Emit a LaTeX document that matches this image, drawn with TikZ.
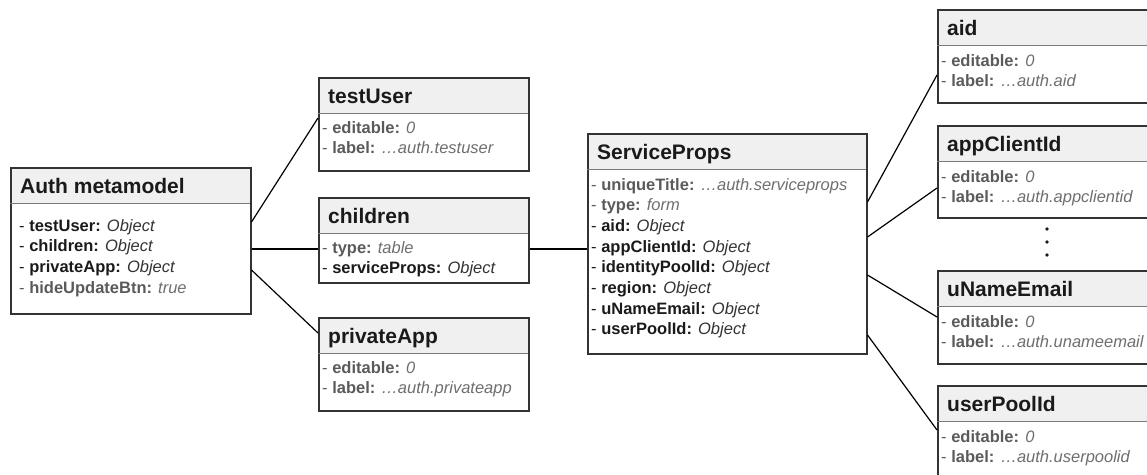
\documentclass[tikz,border=0pt]{standalone}
\usepackage{fontspec}
\setmainfont{Liberation Sans}
\usetikzlibrary{calc}

\definecolor{hdrfill}{HTML}{F0F0F0}
\definecolor{framecol}{HTML}{333333}
\definecolor{sepcol}{HTML}{7A7A7A}
\definecolor{keygray}{HTML}{5A5A5A}
\definecolor{valgray}{HTML}{6E6E6E}
\definecolor{ink}{HTML}{1A1A1A}
\definecolor{objink}{HTML}{333333}

% one attribute line pointing to a child object
\newcommand\objfield[1]{\textcolor{ink}{- \textbf{#1:} \textcolor{objink}{\textit{Object}}}}
% one plain attribute line with a value
\newcommand\valfield[2]{\textcolor{keygray}{- \textbf{#1:} \textcolor{valgray}{\textit{#2}}}}

\tikzset{
  hdr/.style={rectangle, fill=hdrfill, draw=none, inner sep=0pt, outer sep=0pt, minimum height=36pt},
  umlframe/.style={rectangle, draw=framecol, line width=1.5pt, fill=none, inner sep=0pt},
  sepline/.style={draw=sepcol, line width=1pt},
  titletext/.style={inner sep=0pt, text=ink, font=\fontsize{21}{25}\selectfont\bfseries},
  bodytext/.style={inner sep=0pt, font=\fontsize{16.5}{20.7}\selectfont},
  link/.style={draw=black, line width=1.2pt},
  dotmark/.style={fill=ink}
}

% #1 name, #2 x, #3 y, #4 width, #5 height, #6 title,
% #7 body indent, #8 first baseline below header, #9 body lines
\newcommand\umlbox[9]{%
  \node[hdr, minimum width=#4pt, anchor=north west] (#1-h) at (#2,#3) {};
  \node[umlframe, minimum width=#4pt, minimum height=#5pt, anchor=north west] (#1) at (#2,#3) {};
  \draw[sepline] (#1-h.south west) -- (#1-h.south east);
  \node[titletext, anchor=base west] (#1-t) at ($(#1-h.south west)+(10,-10)$) {#6};
  \node[bodytext, anchor=base west] (#1-b) at ($(#1-h.south west)+(#7,#8)$)
    {\begin{tabular}[t]{@{}l@{}}#9\end{tabular}};
}

\begin{document}
\begin{tikzpicture}[x=1pt,y=-1pt]
  \path[use as bounding box, clip] (0,0) rectangle (1147,474);

  % root object
  \umlbox{auth}{10}{167}{240}{146}{Auth metamodel}{9}{28}{%
    \objfield{testUser}\\
    \objfield{children}\\
    \objfield{privateApp}\\
    \valfield{hideUpdateBtn}{true}}

  % first level children
  \umlbox{testUser}{318}{77}{210}{93}{testUser}{4}{20}{%
    \valfield{editable}{0}\\
    \valfield{label}{…auth.testuser}}

  \umlbox{children}{318}{197}{210}{85}{children}{4}{20}{%
    \valfield{type}{table}\\
    \objfield{serviceProps}}

  \umlbox{privateApp}{318}{317}{210}{93}{privateApp}{4}{20}{%
    \valfield{editable}{0}\\
    \valfield{label}{…auth.privateapp}}

  % service properties
  \umlbox{sp}{587}{133}{279}{220}{ServiceProps}{4}{21}{%
    \valfield{uniqueTitle}{…auth.serviceprops}\\
    \valfield{type}{form}\\
    \objfield{aid}\\
    \objfield{appClientId}\\
    \objfield{identityPoolId}\\
    \objfield{region}\\
    \objfield{uNameEmail}\\
    \objfield{userPoolId}}

  % service property fields
  \umlbox{aid}{937}{9}{230}{93}{aid}{4}{21}{%
    \valfield{editable}{0}\\
    \valfield{label}{…auth.aid}}

  \umlbox{appClientId}{937}{125}{230}{92}{appClientId}{4}{21}{%
    \valfield{editable}{0}\\
    \valfield{label}{…auth.appclientid}}

  \umlbox{uNameEmail}{937}{270}{230}{93}{uNameEmail}{4}{21}{%
    \valfield{editable}{0}\\
    \valfield{label}{…auth.unameemail}}

  \umlbox{userPoolId}{937}{385}{230}{93}{userPoolId}{4}{21}{%
    \valfield{editable}{0}\\
    \valfield{label}{…auth.userpoolid}}

  % elided fields
  \fill[dotmark] (1047,229) circle (1.8);
  \fill[dotmark] (1047,242) circle (1.8);
  \fill[dotmark] (1047,255) circle (1.8);

  % connectors
  \draw[link] ($(auth.north east)+(0,55)$) -- ($(testUser.north west)+(0,41)$);
  \draw[link] ($(auth.north east)+(0,82)$) -- ($(children.north west)+(0,52)$);
  \draw[link] ($(auth.north east)+(0,103)$) -- ($(privateApp.north west)+(0,16)$);
  \draw[link] ($(children.north east)+(0,52)$) -- ($(sp.north west)+(0,116)$);
  \draw[link] ($(sp.north east)+(0,69)$) -- ($(aid.north west)+(0,66)$);
  \draw[link] ($(sp.north east)+(0,104)$) -- ($(appClientId.north west)+(0,63)$);
  \draw[link] ($(sp.north east)+(0,142)$) -- ($(uNameEmail.north west)+(0,47)$);
  \draw[link] ($(sp.north east)+(0,202)$) -- ($(userPoolId.north west)+(0,45)$);
\end{tikzpicture}
\end{document}
